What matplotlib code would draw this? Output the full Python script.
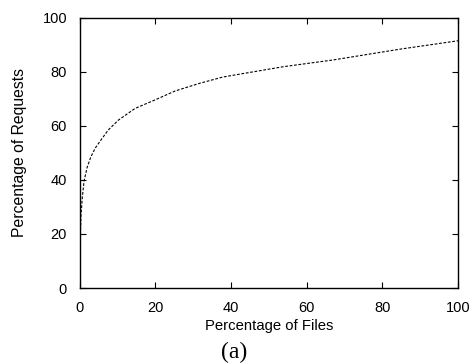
import matplotlib
matplotlib.use('Agg')
import matplotlib.pyplot as plt

# CDF of requests vs files
pct_files = [0, 0.1, 0.2, 0.4, 0.75, 1.2, 2.0, 3.0, 4.2, 5.6, 7.6, 10.3, 14.7, 19.9, 25.2, 31.8, 37.9, 53.8, 67.0, 84.7, 100]
pct_requests = [0, 10, 18, 27, 33.5, 39.5, 44.5, 48.5, 51.8, 54.6, 58.4, 62.1, 66.4, 69.5, 72.8, 75.7, 78.0, 81.8, 84.3, 88.3, 91.4]

plt.rcParams['font.family'] = ['Liberation Sans', 'DejaVu Sans']

fig = plt.figure(figsize=(4.73, 3.64), dpi=100)
ax = fig.add_axes([79.5/473, 1-288/364, (458-79.5)/473, (288-17.5)/364])
ax.plot(pct_files, pct_requests, color='black', lw=0.8, ls=(0, (2.5, 1.5)))
ax.set_xlim(0, 100)
ax.set_ylim(0, 100)
ax.set_xticks([0, 20, 40, 60, 80, 100])
ax.set_yticks([0, 20, 40, 60, 80, 100])
ax.tick_params(direction='in', length=4, width=0.8, top=True, right=True, labelsize=10.5)
ax.tick_params(axis='x', pad=9)
ax.tick_params(axis='y', pad=9)
for s in ax.spines.values():
    s.set_linewidth(1.0)
ax.set_xlabel('Percentage of Files', fontsize=10.7, labelpad=3)
ax.set_ylabel('Percentage of Requests', fontsize=11.3, labelpad=11)
fig.text(0.495, 1-352/364, '(a)', fontsize=17, family=['Liberation Serif', 'DejaVu Serif'], ha='center', va='center')
fig.savefig('out.png', dpi=100)
